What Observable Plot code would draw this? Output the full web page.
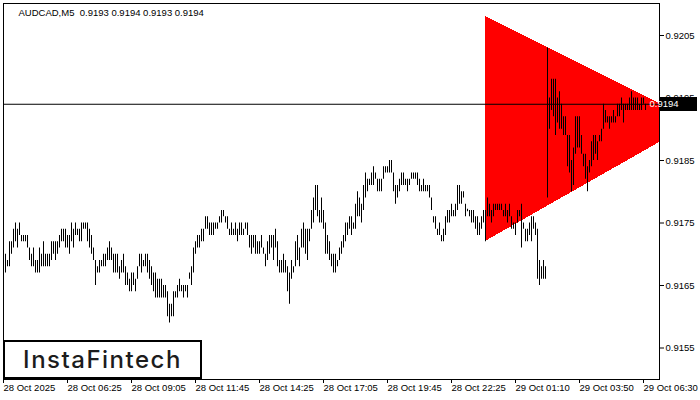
<!DOCTYPE html>
<html><head><meta charset="utf-8">
<script src="https://cdn.jsdelivr.net/npm/d3@7"></script>
<script src="https://cdn.jsdelivr.net/npm/@observablehq/plot@0.6"></script>
<style>
html,body{margin:0;padding:0;background:#fff;}
#wrap{position:relative;width:700px;height:400px;overflow:hidden;}
svg text{white-space:pre;}
#logo{position:absolute;left:3px;top:340px;width:199px;height:39px;box-sizing:border-box;border:2px solid #000;background:#fff;display:flex;align-items:center;justify-content:center;font-family:Inter,"Liberation Sans",sans-serif;font-size:24px;font-weight:500;letter-spacing:1.5px;color:#1c1c1c;}
</style></head><body><div id="wrap"></div>
<script>
const symbol = "AUDCAD,M5";
const lastOHLC = [0.9193, 0.9194, 0.9193, 0.9194];
const lastPrice = 0.9194;
const brand = "InstaFintech";

const highs = [
.9171,.9170,.9169,.9172,.9172,.9174,.9175,.9174,.9175,.9173,
.9173,.9173,.9173,.9171,.9170,.9171,.9169,.9169,.9171,.9170,
.9172,.9170,.9170,.9170,.9172,.9172,.9172,.9172,.9173,.9174,
.9174,.9174,.9173,.9173,.9175,.9174,.9175,.9174,.9174,.9175,
.9175,.9175,.9175,.9174,.9173,.9171,.9169,.9168,.9169,.9169,
.9170,.9170,.9171,.9172,.9171,.9170,.9170,.9170,.9168,.9169,
.9170,.9168,.9167,.9166,.9167,.9167,.9166,.9168,.9170,.9170,
.9169,.9170,.9170,.9169,.9168,.9167,.9167,.9166,.9166,.9166,
.9165,.9165,.9164,.9162,.9162,.9164,.9164,.9165,.9166,.9165,
.9165,.9165,.9165,.9167,.9168,.9171,.9172,.9173,.9173,.9174,
.9174,.9176,.9176,.9175,.9175,.9175,.9175,.9175,.9176,.9177,
.9177,.9176,.9176,.9174,.9175,.9174,.9175,.9174,.9175,.9175,
.9174,.9175,.9175,.9173,.9173,.9173,.9173,.9172,.9172,.9173,
.9171,.9170,.9172,.9173,.9173,.9173,.9174,.9172,.9169,.9169,
.9170,.9169,.9168,.9167,.9169,.9168,.9172,.9173,.9171,.9174,
.9175,.9174,.9174,.9174,.9177,.9179,.9181,.9181,.9177,.9179,
.9177,.9175,.9173,.9172,.9170,.9170,.9170,.9169,.9171,.9172,
.9173,.9175,.9175,.9176,.9176,.9175,.9178,.9180,.9179,.9178,
.9181,.9183,.9182,.9182,.9183,.9184,.9183,.9182,.9182,.9182,
.9184,.9184,.9184,.9185,.9185,.9183,.9181,.9181,.9182,.9183,
.9183,.9182,.9182,.9182,.9183,.9183,.9183,.9183,.9182,.9181,
.9182,.9181,.9181,.9181,.9179,.9176,.9176,.9174,.9175,.9173,
.9174,.9176,.9177,.9177,.9178,.9177,.9178,.9181,.9181,.9180,
.9180,.9178,.91772,.9177,.9177,.9177,.9176,.9176,.9175,.9176,
.9177,.9177,.9179,.9178,.9177,.9178,.9178,.9178,.9178,.9178,
.9177,.9178,.9177,.9178,.9176,.9175,.9175,.9177,.9177,.9178,
.9175,.9174,.9174,.9175,.9176,.9176,.9175,.9174,.9169,.9168,
.9169,.9168,.9203,.9195,.9198,.9198,.9198,.9195,.9196,.9194,
.9192,.9192,.9189,.9189,.9185,.9187,.9192,.9192,.9192,.9189,
.9186,.9186,.9184,.9185,.9188,.9189,.9189,.9188,.9189,.9190,
.9194,.9193,.9192,.9192,.9192,.9193,.9192,.9194,.9194,.9195,
.9194,.9194,.9194,.9195,.9196,.9195,.9195,.9195,.9194,.9195,
.9195,.9194
];
const lows = [
.9169,.9167,.9168,.9168,.9170,.9171,.9172,.9171,.9173,.9172,
.9172,.9172,.9171,.9169,.9168,.9168,.9167,.9167,.9167,.9168,
.9168,.9168,.9168,.9168,.9169,.9170,.9169,.9170,.9171,.9172,
.9172,.9171,.9171,.9170,.9172,.9171,.9173,.9173,.9172,.9172,
.9174,.9174,.9172,.9171,.9170,.9169,.9165,.9167,.9167,.9168,
.9168,.9168,.9169,.9169,.9169,.9167,.9167,.9167,.9166,.9167,
.9167,.9165,.9165,.9164,.9164,.9165,.9164,.9166,.9168,.9167,
.9168,.9168,.9167,.9166,.9165,.9164,.9163,.9163,.9163,.9163,
.9163,.9163,.9160,.9159,.9160,.9160,.9163,.9163,.9164,.9164,
.9163,.9164,.9163,.9166,.9165,.9167,.9170,.9171,.9171,.9172,
.9172,.9174,.9174,.9173,.9173,.9173,.9174,.9174,.9175,.9175,
.9176,.9175,.9174,.9173,.9173,.9173,.9173,.9172,.9173,.9173,
.9173,.9174,.9173,.9171,.9170,.9171,.9170,.9170,.9170,.9171,
.9170,.9168,.9169,.9170,.9171,.9169,.9171,.9168,.9167,.9167,
.9167,.9167,.9164,.9162,.9166,.9167,.9168,.9169,.9168,.9171,
.9171,.9170,.9169,.9172,.9174,.9175,.9177,.9176,.9175,.9175,
.9174,.9170,.9170,.9169,.9168,.9167,.9167,.9168,.9169,.9170,
.9171,.9172,.9173,.9174,.9173,.9174,.9174,.9176,.9176,.9175,
.9177,.9179,.9180,.9181,.9181,.9181,.9182,.9180,.9180,.9180,
.9182,.9183,.9183,.9183,.9183,.9180,.9178,.9179,.9180,.9181,
.9181,.9181,.9180,.9181,.9182,.9182,.9182,.9181,.9180,.9180,
.9180,.9180,.9180,.9179,.9177,.9175,.9174,.9173,.9173,.9172,
.9172,.9173,.9175,.9175,.9176,.9176,.9176,.9177,.9178,.9178,
.9179,.9176,.91768,.9176,.9175,.9175,.9174,.9173,.9173,.9174,
.9175,.9172,.9176,.9176,.9175,.9176,.9177,.9177,.9177,.9177,
.9176,.9176,.9175,.9176,.9174,.9174,.9173,.9175,.9176,.9171,
.9174,.9172,.9172,.9173,.9172,.9174,.9173,.9166,.9165,.9166,
.9166,.9166,.9179,.9190,.9193,.9192,.9189,.9191,.9190,.9190,
.9189,.9189,.9184,.9183,.9180,.9181,.9186,.9187,.9187,.9186,
.9184,.9182,.9180,.9183,.9184,.9185,.9186,.9185,.9188,.9188,
.9190,.9191,.9191,.9190,.9191,.9191,.9191,.9192,.9192,.9193,
.9191,.9193,.9193,.9193,.9193,.9193,.9193,.9193,.9193,.9193,
.9194,.9193
];

const xTickBars = [0, 32, 64, 96, 128, 160, 192, 224, 256, 288, 320];
const xTickLabels = ["28 Oct 2025","28 Oct 06:25","28 Oct 09:05","28 Oct 11:45","28 Oct 14:25","28 Oct 17:05","28 Oct 19:45","28 Oct 22:25","29 Oct 01:10","29 Oct 03:50","29 Oct 06:30"];
const yTicks = [0.9155, 0.9165, 0.9175, 0.9185, 0.9195, 0.9205];

const triBars = [241, 346.3];
const triUpper = [0.920804, 0.91912];
const triLower = [0.917204, 0.91912];

const barCountVisible = 328;
const priceRange = [0.914996, 0.921012];

const bars = highs.map((h, i) => ({i, high: h, low: lows[i]}));
const tri = triBars.map((b, k) => ({x: b, y1: triUpper[k], y2: triLower[k]}));
const labelMap = new Map(xTickBars.map((b, k) => [b, xTickLabels[k]]));
const fmt4 = d3.format(".4f");
const titleStr = symbol + "  " + lastOHLC.map(fmt4).join(" ");

const chart = Plot.plot({
  width: 700, height: 400,
  marginLeft: 3, marginRight: 41, marginTop: 3, marginBottom: 21,
  style: {fontFamily: "'Liberation Sans', Arial, sans-serif", fontSize: "9.5px", color: "#000", background: "#fff"},
  x: {domain: [0, barCountVisible], axis: null},
  y: {domain: priceRange, axis: null},
  marks: [
    Plot.areaY(tri, {x: "x", y1: "y1", y2: "y2", fill: "#ff0000", clip: true, shapeRendering: "crispEdges"}),
    Plot.ruleX(bars, {x: "i", y1: "low", y2: "high", stroke: "#000", strokeWidth: 1}),
    Plot.ruleY([lastPrice], {stroke: "#000", strokeWidth: 1}),
    Plot.frame({stroke: "#000"}),
    Plot.axisX(xTickBars, {anchor: "bottom", tickSize: 4, tickPadding: 1, tickFormat: d => labelMap.get(d), textAnchor: "start", fill: "#000"}),
    Plot.axisY(yTicks, {anchor: "right", tickSize: 4, tickPadding: 2, tickFormat: fmt4, fill: "#000"}),
    Plot.text([titleStr], {frameAnchor: "top-left", dx: 15, dy: 9, textAnchor: "start", lineAnchor: "middle", fill: "#000"})
  ]
});

const wrap = document.getElementById("wrap");
wrap.appendChild(chart);

// current price label box on the price axis
const yp = chart.scale("y").apply(lastPrice);
const g = d3.select(chart).append("g");
g.append("rect").attr("x", 660).attr("y", Math.round(yp) - 7).attr("width", 37).attr("height", 14).attr("fill", "#000");
g.append("text").attr("x", 664).attr("y", yp).attr("dy", "0.35em").attr("fill", "#fff")
  .attr("font-family", "'Liberation Sans', Arial, sans-serif").attr("font-size", "9.5px").text(fmt4(lastPrice));

const logo = document.createElement("div");
logo.id = "logo";
logo.textContent = brand;
wrap.appendChild(logo);
</script>
</body></html>
